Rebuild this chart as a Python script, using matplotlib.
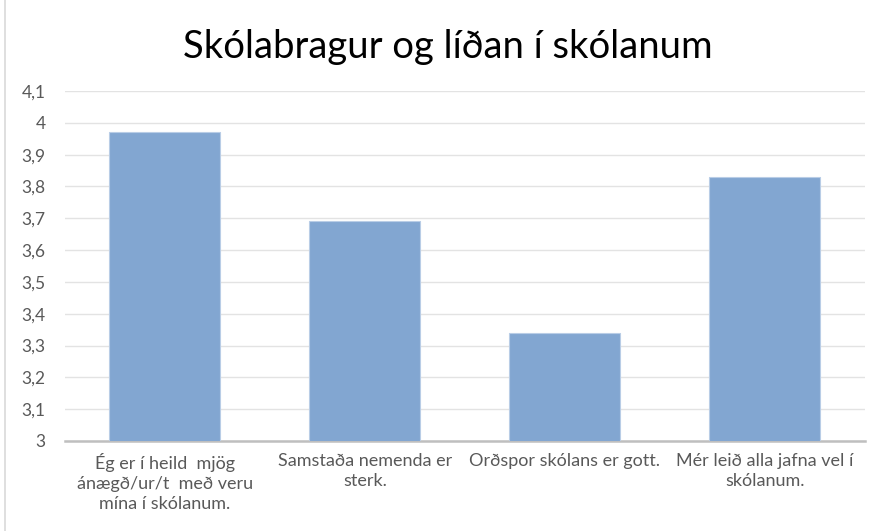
import numpy as np
import matplotlib
matplotlib.use('Agg')
import matplotlib.pyplot as plt
from matplotlib.ticker import FuncFormatter, MultipleLocator
from matplotlib.lines import Line2D

plt.rcParams['font.family'] = ['Lato', 'DejaVu Sans']

title = 'Skólabragur og líðan í skólanum'
categories = [
    'Ég er í heild  mjög\nánægð/ur/t  með veru\nmína í skólanum.',
    'Samstaða nemenda er\nsterk.',
    'Orðspor skólans er gott.',
    'Mér leið alla jafna vel í\nskólanum.',
]
values = [3.97, 3.69, 3.34, 3.83]

fig = plt.figure(figsize=(8.76, 5.31), dpi=100)
ax = fig.add_axes([0.0742, 0.1695, 0.9128, 0.6591])

x = np.arange(len(categories))
ax.bar(x, values, width=0.555, bottom=0, color='#82a6d1',
       edgecolor='#b9cde6', linewidth=0.8, zorder=3)

ax.set_ylim(3, 4.1)
ax.set_xlim(-0.5, len(categories) - 0.5)
ax.yaxis.set_major_locator(MultipleLocator(0.1))
ax.yaxis.set_major_formatter(FuncFormatter(lambda v, p: f'{round(v, 1):g}'.replace('.', ',')))
ax.grid(axis='y', color='#e3e3e3', linewidth=1.0, zorder=0)

ax.set_xticks(x)
ax.set_xticklabels(categories, fontsize=13, color='#595959', linespacing=1.3)
ax.tick_params(axis='both', length=0, labelcolor='#595959')
ax.tick_params(axis='y', labelsize=12.5, pad=14)
ax.tick_params(axis='x', pad=9)

for s in ['top', 'right', 'left']:
    ax.spines[s].set_visible(False)
ax.spines['bottom'].set_color('#bfbfbf')
ax.spines['bottom'].set_linewidth(1.8)

fig.text(0.511, 0.912, title, ha='center', va='center', fontsize=27.5, color='#000000')

# chart frame on the left edge
fig.add_artist(Line2D([0.006, 0.006], [0, 1], transform=fig.transFigure,
                      color='#d9d9d9', linewidth=1.2))

fig.savefig('out.png', dpi=100)
